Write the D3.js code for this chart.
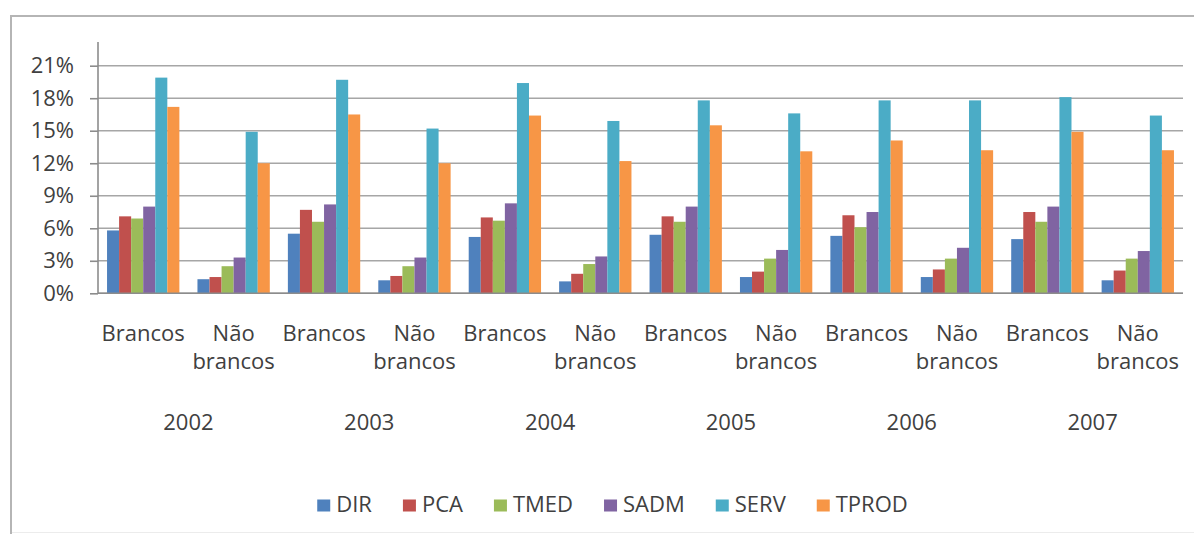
<!DOCTYPE html>
<html>
<head>
<meta charset="utf-8">
<script src="https://cdn.jsdelivr.net/npm/d3@7"></script>
<style>
  html, body { margin: 0; padding: 0; background: #fff; }
  svg { display: block; }
  text { font-family: "Open Sans", sans-serif; fill: #404040; }
</style>
</head>
<body>
<svg id="chart" width="1194" height="534"></svg>
<script>
// ---- data ----
const years = ["2002", "2003", "2004", "2005", "2006", "2007"];
const groups = ["Brancos", "Não brancos"];
const seriesNames = ["DIR", "PCA", "TMED", "SADM", "SERV", "TPROD"];
const seriesColors = ["#4F81BD", "#C0504D", "#9BBB59", "#8064A2", "#4BACC6", "#F79646"];
const yTicks = [0, 3, 6, 9, 12, 15, 18, 21];

const DIR   = [5.8, 1.3, 5.5, 1.2, 5.2, 1.1, 5.4, 1.5, 5.3, 1.5, 5.0, 1.2];
const PCA   = [7.1, 1.5, 7.7, 1.6, 7.0, 1.8, 7.1, 2.0, 7.2, 2.2, 7.5, 2.1];
const TMED  = [6.9, 2.5, 6.6, 2.5, 6.7, 2.7, 6.6, 3.2, 6.1, 3.2, 6.6, 3.2];
const SADM  = [8.0, 3.3, 8.2, 3.3, 8.3, 3.4, 8.0, 4.0, 7.5, 4.2, 8.0, 3.9];
const SERV  = [19.9, 14.9, 19.7, 15.2, 19.4, 15.9, 17.8, 16.6, 17.8, 17.8, 18.1, 16.4];
const TPROD = [17.2, 12.0, 16.5, 12.0, 16.4, 12.2, 15.5, 13.1, 14.1, 13.2, 14.9, 13.2];

const seriesValues = [DIR, PCA, TMED, SADM, SERV, TPROD];

// ---- layout ----
const svg = d3.select("#chart");
const plot = { left: 98, right: 1183, top: 42, bottom: 293.3 };

// chart border
svg.append("rect")
  .attr("x", 11).attr("y", 16)
  .attr("width", 1300).attr("height", 540)
  .attr("fill", "none").attr("stroke", "#b5b5b5").attr("stroke-width", 2);
svg.append("line")
  .attr("x1", 12).attr("x2", 1194).attr("y1", 532.5).attr("y2", 532.5)
  .attr("stroke", "#ececec").attr("stroke-width", 1);

const cats = [];
years.forEach(y => groups.forEach(g => cats.push(y + "|" + g)));

const x0 = d3.scaleBand().domain(cats).range([plot.left, plot.right])
  .paddingInner(0.2).paddingOuter(0.1);
const x1 = d3.scaleBand().domain(seriesNames).range([0, x0.bandwidth()]);
const y = d3.scaleLinear().domain([0, 21]).range([plot.bottom, 65.7]);

// gridlines
svg.append("g").selectAll("line").data(yTicks).join("line")
  .attr("x1", plot.left).attr("x2", plot.right)
  .attr("y1", d => y(d)).attr("y2", d => y(d))
  .attr("stroke", "#a6a6a6").attr("stroke-width", 1.6);

// y axis
const yAxis = d3.axisLeft(y).tickValues(yTicks).tickSize(8).tickPadding(16)
  .tickFormat(d => d + "%");
const yg = svg.append("g").attr("transform", `translate(${plot.left},0)`).call(yAxis);
yg.select(".domain").remove();
yg.selectAll(".tick line").attr("stroke", "#8c8c8c").attr("stroke-width", 1.6);
yg.selectAll(".tick text")
  .style("font-family", '"Open Sans", sans-serif')
  .style("font-size", "22px").attr("fill", "#404040");
svg.append("line")
  .attr("x1", plot.left).attr("x2", plot.left)
  .attr("y1", plot.top).attr("y2", plot.bottom)
  .attr("stroke", "#8c8c8c").attr("stroke-width", 1.6);

// bars
const barData = [];
seriesNames.forEach((s, si) => {
  cats.forEach((c, ci) => barData.push({ cat: c, series: s, color: seriesColors[si], value: seriesValues[si][ci] }));
});
svg.append("g").selectAll("rect").data(barData).join("rect")
  .attr("x", d => x0(d.cat) + x1(d.series))
  .attr("width", x1.bandwidth())
  .attr("y", d => y(d.value))
  .attr("height", d => y(0) - y(d.value))
  .attr("fill", d => d.color);

// x axis line
svg.append("line")
  .attr("x1", plot.left).attr("x2", plot.right)
  .attr("y1", plot.bottom).attr("y2", plot.bottom)
  .attr("stroke", "#8c8c8c").attr("stroke-width", 1.6);

// category labels
const lab = svg.append("g").style("font-size", "22px").attr("text-anchor", "middle");
cats.forEach(c => {
  const g = c.split("|")[1];
  const cx = x0(c) + x0.bandwidth() / 2;
  const words = g.split(" ");
  words.forEach((w, i) => {
    lab.append("text").attr("x", cx).attr("y", 341 + i * 27.5).text(w);
  });
});
// year labels
years.forEach(yr => {
  const a = x0(yr + "|" + groups[0]) + x0.bandwidth() / 2;
  const b = x0(yr + "|" + groups[1]) + x0.bandwidth() / 2;
  lab.append("text").attr("x", (a + b) / 2).attr("y", 430).text(yr);
});

// legend
const leg = svg.append("g");
const items = seriesNames.map((s, i) => {
  const g = leg.append("g");
  g.append("rect").attr("x", 0).attr("y", -12.5).attr("width", 13).attr("height", 12).attr("fill", seriesColors[i]);
  const t = g.append("text").attr("x", 19).attr("y", 0).style("font-size", "22px").text(s);
  return { g, w: 19 + t.node().getComputedTextLength() };
});
const gap = 31;
const total = d3.sum(items, d => d.w) + gap * (items.length - 1);
let cx = 612.5 - total / 2;
items.forEach(it => {
  it.g.attr("transform", `translate(${cx},512)`);
  cx += it.w + gap;
});
</script>
</body>
</html>
